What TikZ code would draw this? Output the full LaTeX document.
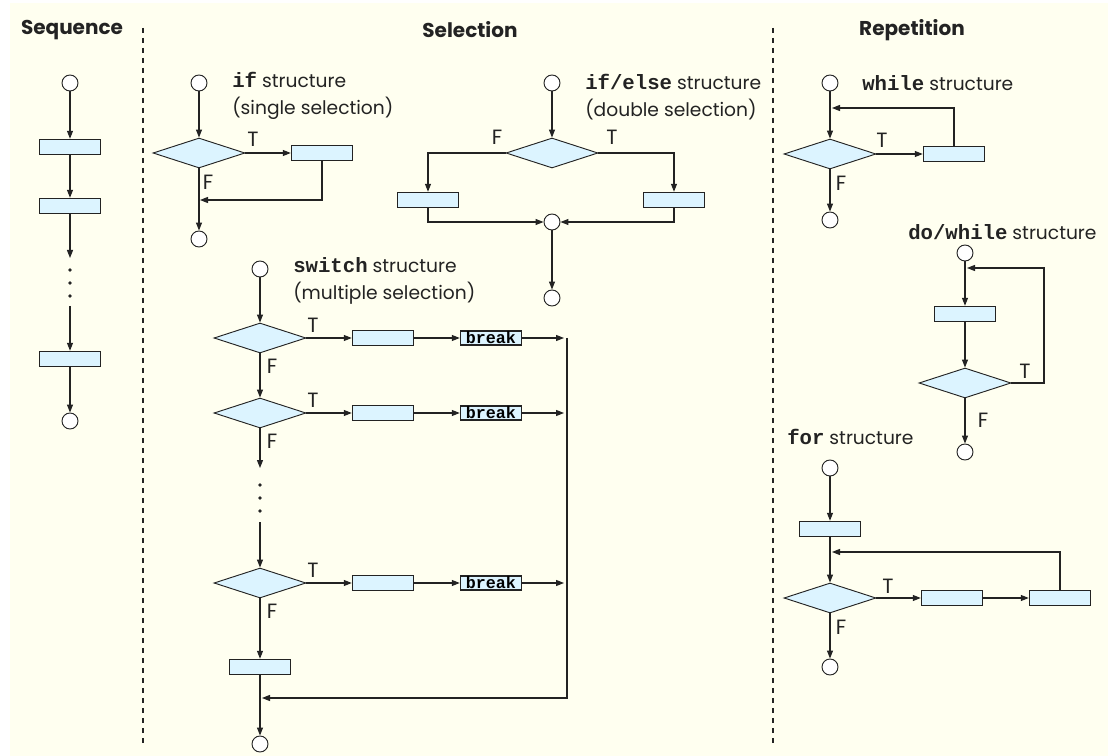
\documentclass[tikz,border=0pt]{standalone}
\usepackage{fontspec}
\setmainfont{Poppins}
\setmonofont{Liberation Mono}
\usetikzlibrary{shapes.geometric,arrows.meta}
\definecolor{paper}{RGB}{255,255,240}
\definecolor{boxfill}{RGB}{220,244,255}
\definecolor{ink}{RGB}{35,35,35}
\tikzset{
  term/.style={circle,draw=ink,line width=0.7pt,fill=white,minimum size=12pt,inner sep=0pt},
  act/.style={rectangle,draw=ink,line width=0.8pt,fill=boxfill,minimum width=46pt,minimum height=11.5pt,inner sep=0pt},
  cond/.style={diamond,draw=ink,line width=0.7pt,fill=boxfill,minimum width=69pt,minimum height=22.5pt,inner sep=0pt},
  brk/.style={rectangle,draw=ink,line width=0.8pt,fill=boxfill,minimum width=46pt,minimum height=10.5pt,inner sep=0pt,font=\fontsize{12.5}{12}\ttfamily\bfseries},
  flow/.style={draw=ink,line width=0.8pt,-{Triangle[length=6pt,width=4.5pt]}},
  lbl/.style={font=\fontsize{15.5}{17}\selectfont,text=ink},
  head/.style={font=\fontsize{15}{17}\selectfont\bfseries,text=ink},
  note/.style={font=\fontsize{14}{20}\selectfont,anchor=west,align=left,text=ink,inner sep=0pt},
  sep/.style={draw=ink,line width=0.8pt,dash pattern=on 4pt off 3.5pt},
}
\newcommand{\kw}[1]{{\fontsize{15.5}{20}\ttfamily\bfseries #1}}
\begin{document}
\begin{tikzpicture}[x=0.75pt,y=-0.75pt]
\useasboundingbox (0,0) rectangle (1108,756);
\fill[paper] (10,3) rectangle (1108,756);

% headings and column separators
\node[head] (hSeq) at (72,30) {Sequence};
\node[head] (hSel) at (470,30) {Selection};
\node[head] (hRep) at (912,30) {Repetition};
\draw[sep] (143,28) -- (143,745);
\draw[sep] (773,28) -- (773,745);

% sequence
\node[term] (seqS) at (70,83) {};
\node[act]  (seqA) at (70,147) {};
\node[act]  (seqB) at (70,206) {};
\coordinate (seqDot) at (70,258);
\coordinate (seqRe) at (70,306);
\node[act]  (seqC) at (70,359) {};
\node[term] (seqE) at (70,421) {};
\draw[flow] (seqS) -- (seqA);
\draw[flow] (seqA) -- (seqB);
\draw[flow] (seqB) -- (seqDot);
\foreach \y in {270,283,296} \fill[ink] (70,\y) circle (1.4pt);
\draw[flow] (seqRe) -- (seqC);
\draw[flow] (seqC) -- (seqE);

% if structure
\node[term] (ifS) at (199,83) {};
\node[note] (ifN) at (232,96) {\kw{if} structure\\(single selection)};
\node[cond] (ifD) at (199,153) {};
\node[act]  (ifA) at (322,153) {};
\coordinate (ifJoin) at (200,200);
\node[term] (ifE) at (199,239) {};
\draw[flow] (ifS) -- (ifD);
\draw[flow] (ifD) -- (ifA);
\draw[flow] (ifA.south) |- (ifJoin);
\draw[flow] (ifD) -- (ifE);
\node[lbl] at (253,139) {T};
\node[lbl] at (208,182) {F};

% if/else structure
\node[term] (ieS) at (552,83) {};
\node[note] (ieN) at (585,97) {\kw{if/else} structure\\(double selection)};
\node[cond] (ieD) at (552,153) {};
\node[act]  (ieF) at (428,200) {};
\node[act]  (ieT) at (674,200) {};
\node[term] (ieM) at (552,222) {};
\node[term] (ieE) at (552,298) {};
\draw[flow] (ieS) -- (ieD);
\draw[flow] (ieD.west) -| (ieF);
\draw[flow] (ieD.east) -| (ieT);
\draw[flow] (ieF.south) |- (ieM);
\draw[flow] (ieT.south) |- (ieM);
\draw[flow] (ieM) -- (ieE);
\node[lbl] at (497,137) {F};
\node[lbl] at (612,137) {T};

% switch structure
\node[term] (swS) at (260,269) {};
\node[note] (swN) at (293,281) {\kw{switch} structure\\(multiple selection)};
\foreach \i/\y in {1/338,2/413,3/583} {
  \node[cond] (swD\i) at (260,\y) {};
  \node[act]  (swA\i) at (383,\y) {};
  \node[brk]  (swB\i) at (491,\y) {break};
  \coordinate (swR\i) at (564,\y);
  \draw[flow] (swD\i) -- (swA\i);
  \draw[flow] (swA\i) -- (swB\i);
  \draw[flow] (swB\i) -- (swR\i);
  \node[lbl] at (313,\y-13) {T};
  \node[lbl] at (272,\y+28) {F};
}
\coordinate (swDot) at (260,468);
\coordinate (swRe) at (260,522);
\node[act]  (swA4) at (260,667) {};
\coordinate (swTop) at (567,338);
\coordinate (swBot) at (567,698);
\coordinate (swJoin) at (262,698);
\node[term] (swE) at (260,744) {};
\draw[flow] (swS) -- (swD1);
\draw[flow] (swD1) -- (swD2);
\draw[flow] (swD2) -- (swDot);
\foreach \y in {485,498,511} \fill[ink] (260,\y) circle (1.4pt);
\draw[flow] (swRe) -- (swD3);
\draw[flow] (swD3) -- (swA4);
\draw[flow] (swTop) -- (swBot) -- (swJoin);
\draw[flow] (swA4) -- (swE);

% while structure
\node[term] (wS) at (830,83) {};
\node[note] (wN) at (862,83) {\kw{while} structure};
\node[cond] (wD) at (830,154) {};
\node[act]  (wA) at (954,154) {};
\coordinate (wJoin) at (832,108);
\node[term] (wE) at (830,220) {};
\draw[flow] (wS) -- (wD);
\draw[flow] (wD) -- (wA);
\draw[flow] (wA.north) |- (wJoin);
\draw[flow] (wD) -- (wE);
\node[lbl] at (882,140) {T};
\node[lbl] at (841,183) {F};

% do/while structure
\node[note] (dN) at (908,232) {\kw{do/while} structure};
\node[term] (dS) at (965,253) {};
\node[act]  (dA) at (965,314) {};
\node[cond] (dD) at (965,383) {};
\node[term] (dE) at (965,452) {};
\coordinate (dLoop) at (1044,268);
\coordinate (dJoin) at (967,268);
\draw[flow] (dS) -- (dA);
\draw[flow] (dA) -- (dD);
\draw[flow] (dD.east) -| (dLoop) -- (dJoin);
\draw[flow] (dD) -- (dE);
\node[lbl] at (1025,371) {T};
\node[lbl] at (983,420) {F};

% for structure
\node[note] (fN) at (787,437) {\kw{for} structure};
\node[term] (fS) at (830,468) {};
\node[act]  (fA) at (830,529) {};
\node[cond] (fD) at (830,598) {};
\node[act]  (fB) at (952,598) {};
\node[act]  (fC) at (1060,598) {};
\coordinate (fJoin) at (832,552);
\node[term] (fE) at (830,667) {};
\draw[flow] (fS) -- (fA);
\draw[flow] (fA) -- (fD);
\draw[flow] (fD) -- (fB);
\draw[flow] (fB) -- (fC);
\draw[flow] (fC.north) |- (fJoin);
\draw[flow] (fD) -- (fE);
\node[lbl] at (888,586) {T};
\node[lbl] at (841,627) {F};
\end{tikzpicture}
\end{document}
